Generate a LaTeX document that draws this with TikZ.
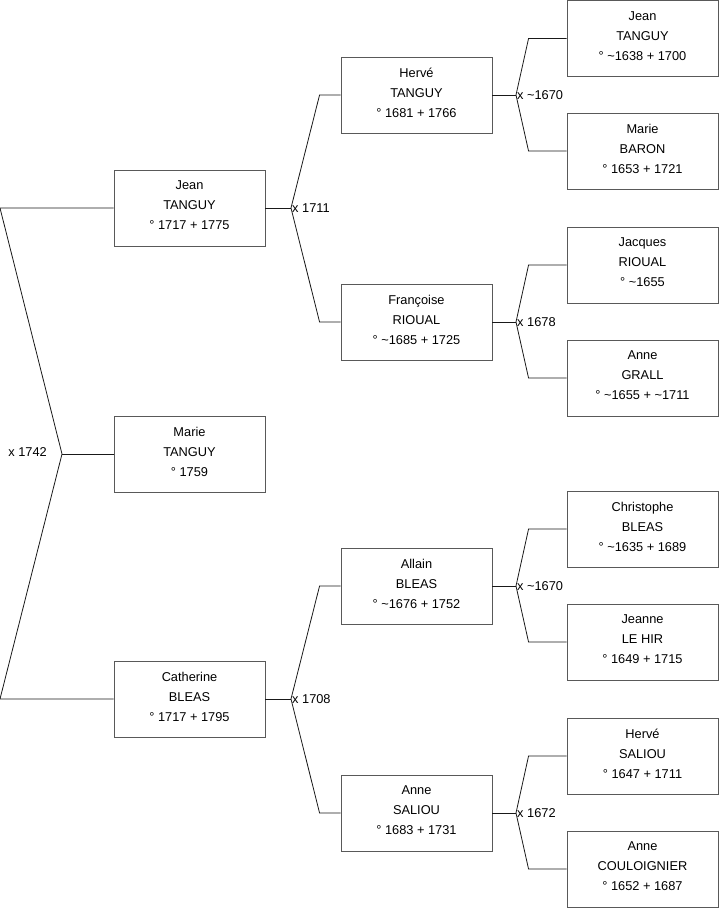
\documentclass[tikz,border=0pt]{standalone}
\usepackage{fontspec}
\setmainfont{Liberation Sans}
\newcommand{\tld}{{\char"007E}}
\begin{document}
\begin{tikzpicture}[x=1pt,y=-1pt,
  person/.style={draw=black!65,line width=0.9pt,fill=white,minimum width=151pt,minimum height=76pt,
    align=center,font=\fontsize{12.8}{20}\selectfont,inner sep=0pt,text depth=5pt},
  link/.style={draw=black!90,line width=0.8pt},
  marr/.style={font=\fontsize{12.8}{14}\selectfont,inner sep=1pt}]
\useasboundingbox (0,0) rectangle (719,908);
% column 1
\node[person] (jeanT) at (189.5,208) {Jean\\TANGUY\\° 1717 + 1775};
\node[person] (marieT) at (189.5,454) {Marie\\TANGUY\\° 1759};
\node[person] (cathB) at (189.5,699) {Catherine\\BLEAS\\° 1717 + 1795};
% column 2
\node[person] (herveT) at (416.5,95) {Hervé\\TANGUY\\° 1681 + 1766};
\node[person] (francR) at (416.5,322) {Françoise\\RIOUAL\\° \tld1685 + 1725};
\node[person] (allainB) at (416.5,586) {Allain\\BLEAS\\° \tld1676 + 1752};
\node[person] (anneS) at (416.5,813) {Anne\\SALIOU\\° 1683 + 1731};
% column 3
\node[person] (jeanT2) at (642.5,38.5) {Jean\\TANGUY\\° \tld1638 + 1700};
\node[person] (marieB) at (642.5,151) {Marie\\BARON\\° 1653 + 1721};
\node[person] (jacqR) at (642.5,265) {Jacques\\RIOUAL\\° \tld1655};
\node[person] (anneG) at (642.5,378) {Anne\\GRALL\\° \tld1655 + \tld1711};
\node[person] (chrisB) at (642.5,529) {Christophe\\BLEAS\\° \tld1635 + 1689};
\node[person] (jeanneL) at (642.5,642) {Jeanne\\LE HIR\\° 1649 + 1715};
\node[person] (herveS) at (642.5,756) {Hervé\\SALIOU\\° 1647 + 1711};
\node[person] (anneC) at (642.5,869) {Anne\\COULOIGNIER\\° 1652 + 1687};
% junctions
\coordinate (r) at (62,454);
\coordinate (rt) at (0,208);
\coordinate (rb) at (0,699);
\coordinate (j1) at (291,208);
\coordinate (j2) at (291,699);
\coordinate (j11) at (516,95);
\coordinate (j12) at (516,322);
\coordinate (j21) at (516,586);
\coordinate (j22) at (516,813);
% root
\draw[link] (jeanT.west) -- (rt) -- (r) -- (rb) -- (cathB.west);
\draw[link] (r) -- (marieT.west);
\node[marr,anchor=east] (m0) at (48,452) {x 1742};
% level 1
\draw[link] (jeanT.east) -- (j1);
\draw[link] (herveT.west) -- ++(-21,0) -- (j1) -- ([xshift=-21pt]francR.west) -- (francR.west);
\node[marr,anchor=west] (m1) at (j1) {x 1711};
\draw[link] (cathB.east) -- (j2);
\draw[link] (allainB.west) -- ++(-21,0) -- (j2) -- ([xshift=-21pt]anneS.west) -- (anneS.west);
\node[marr,anchor=west] (m2) at (j2) {x 1708};
% level 2
\draw[link] (herveT.east) -- (j11);
\draw[link] (jeanT2.west) -- ++(-38,0) -- (j11) -- ([xshift=-38pt]marieB.west) -- (marieB.west);
\node[marr,anchor=west] (m11) at (j11) {x \tld1670};
\draw[link] (francR.east) -- (j12);
\draw[link] (jacqR.west) -- ++(-38,0) -- (j12) -- ([xshift=-38pt]anneG.west) -- (anneG.west);
\node[marr,anchor=west] (m12) at (j12) {x 1678};
\draw[link] (allainB.east) -- (j21);
\draw[link] (chrisB.west) -- ++(-38,0) -- (j21) -- ([xshift=-38pt]jeanneL.west) -- (jeanneL.west);
\node[marr,anchor=west] (m21) at (j21) {x \tld1670};
\draw[link] (anneS.east) -- (j22);
\draw[link] (herveS.west) -- ++(-38,0) -- (j22) -- ([xshift=-38pt]anneC.west) -- (anneC.west);
\node[marr,anchor=west] (m22) at (j22) {x 1672};
\end{tikzpicture}
\end{document}
